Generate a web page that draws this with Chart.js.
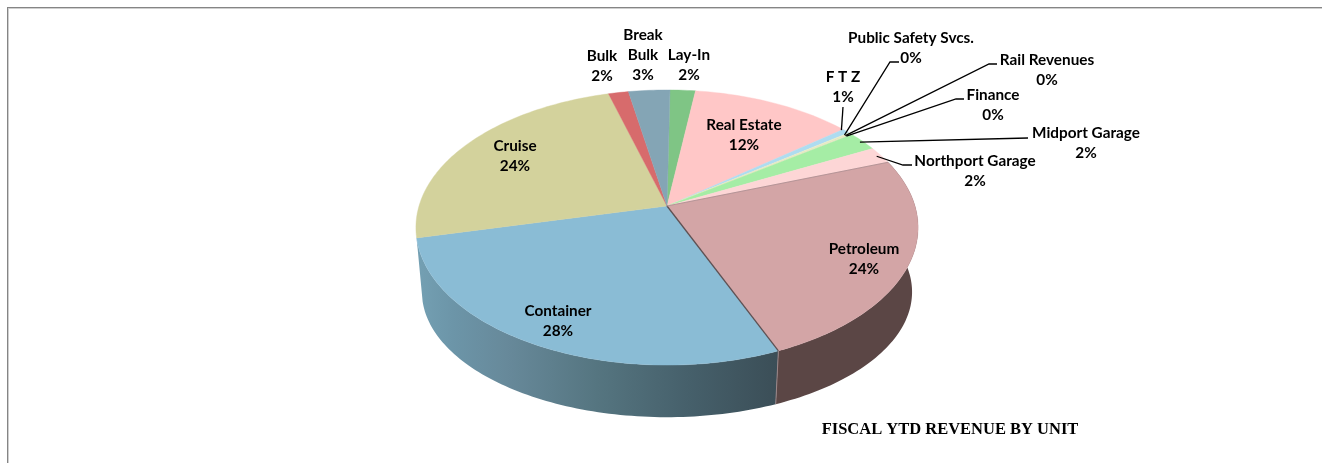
<!DOCTYPE html>
<html>
<head>
<meta charset="utf-8">
<title>Fiscal YTD Revenue by Unit</title>
<script src="https://cdn.jsdelivr.net/npm/chart.js@4"></script>
<style>
  html, body { margin: 0; padding: 0; background: #fff; overflow: hidden; }
  #wrap { position: relative; width: 1322px; height: 463px; }
  #frame { position: absolute; left: 7px; top: 7px; right: 0; bottom: 0;
           border-left: 1px solid #858585; border-top: 1px solid #858585;
           box-shadow: inset 1px 1px 0 #cfcfcf; }
  canvas { position: absolute; left: 0; top: 0; }
</style>
</head>
<body>
<div id="wrap">
  <div id="frame"></div>
  <canvas id="pie" width="1322" height="463"></canvas>
</div>
<script>
// --- data, clockwise starting from Lay-In ---
const categories = ["Lay-In", "Real Estate", "F T Z", "Public Safety Svcs.", "Rail Revenues", "Finance",
  "Midport Garage", "Northport Garage", "Petroleum", "Container", "Cruise", "Bulk", "Break Bulk"];
const revenueShare = [1.9, 12.1, 0.6, 0.1, 0.1, 0.1, 2.3, 2.0, 24.3, 27.6, 24.3, 1.5, 3.1];
const topColors = ["#7fc585", "#ffc7c7", "#aedcf0", "#f0efc4", "#dfe8c0", "#f3e3c8",
  "#a5eda5", "#fdd6d6", "#d3a5a6", "#8abcd5", "#d3d29c", "#d76b6c", "#84a5b5"];
const chartTitle = "FISCAL YTD REVENUE BY UNIT";

// where each label sits (centre x, first line y), same order as categories
const labelPos = [[689, 55], [744, 125], [843, 77], [911, 38], [1047, 60], [993, 95],
  [1086, 133], [975, 161], [864, 249], [558, 311], [515, 146], [602, 56], [643, 35]];
// leader lines: start, elbow, where on the slice it ends (along arc, along radius)
const leaders = {
  2: { from: [843, 107], elbow: null, at: 0, r: 0.99 },
  3: { from: [899, 62], elbow: [890, 62], at: 0.5, r: 0.97 },
  4: { from: [997, 64], elbow: [989, 64], at: 0.5, r: 0.97 },
  5: { from: [964, 99], elbow: [956, 99], at: 0.5, r: 0.97 },
  6: { from: [1028, 138], elbow: null, at: 0.5, r: 0.985 },
  7: { from: [912, 165], elbow: [903, 165], at: 0.5, r: 0.98 },
};

// pie geometry: the view is in perspective, so the apex is above the ellipse centre
const cx = 667, cy = 206, radX = 248, radY = 134.2, persp = 0.1565;
const drop = 66.4, bottomScaleX = 0.976, bottomScaleY = 0.91;

function project(t, r, isBottom) {
  const u = r * Math.sin(t), v = -r * Math.cos(t), w = 1 - persp * v;
  const sx = isBottom ? bottomScaleX : 1;
  const sy = isBottom ? bottomScaleY : 1;
  return [cx + sx * radX * u / w, cy + (isBottom ? drop : 0) + sy * radY * v / w];
}

function rimPoints(a, b, isBottom) {
  const n = Math.max(2, Math.ceil((b - a) / 0.02));
  const pts = [];
  for (let i = 0; i <= n; i++) pts.push(project(a + (b - a) * i / n, 1, isBottom));
  return pts;
}

function tracePoly(ctx, pts) {
  ctx.beginPath();
  pts.forEach((p, i) => (i ? ctx.lineTo(p[0], p[1]) : ctx.moveTo(p[0], p[1])));
  ctx.closePath();
}

const pie3d = {
  id: "pie3d",
  // the library works out the slice angles, we only project them
  beforeDatasetDraw(chart, args) {
    const ctx = chart.ctx;
    const arcs = args.meta.data;
    const angles = arcs.map((arc) => ({ a: arc.startAngle + Math.PI / 2, b: arc.endAngle + Math.PI / 2 }));
    const iPet = categories.indexOf("Petroleum");
    const iCon = categories.indexOf("Container");

    // outer wall
    const wall = (i, fill) => {
      const top = rimPoints(angles[i].a, angles[i].b, false);
      const bottom = rimPoints(angles[i].a, angles[i].b, true).reverse();
      tracePoly(ctx, top.concat(bottom));
      ctx.fillStyle = fill;
      ctx.fill();
    };
    const conGrad = ctx.createLinearGradient(417, 0, 778, 0);
    conGrad.addColorStop(0, "#74a0b3");
    conGrad.addColorStop(0.1, "#6c95a8");
    conGrad.addColorStop(0.25, "#67899a");
    conGrad.addColorStop(0.5, "#557580");
    conGrad.addColorStop(0.75, "#46606b");
    conGrad.addColorStop(1, "#3b4e57");
    wall(iPet, "#5b4645");
    wall(iCon, conGrad);

    // top face
    angles.forEach((ang, i) => {
      const pts = [[cx, cy]].concat(rimPoints(ang.a, ang.b, false));
      tracePoly(ctx, pts);
      ctx.fillStyle = topColors[i];
      ctx.fill();
      ctx.strokeStyle = topColors[i];
      ctx.lineWidth = 0.4;
      ctx.stroke();
    });

    // dark cut between petroleum and container, pale seam on the wall
    const edge = project(angles[iCon].a, 1, false);
    const edgeLow = project(angles[iCon].a, 1, true);
    ctx.strokeStyle = "#5f5052";
    ctx.lineWidth = 1.3;
    ctx.beginPath();
    ctx.moveTo(cx, cy);
    ctx.lineTo(edge[0], edge[1]);
    ctx.stroke();
    ctx.strokeStyle = "#9a8587";
    ctx.lineWidth = 1;
    ctx.beginPath();
    ctx.moveTo(edge[0], edge[1]);
    ctx.lineTo(edgeLow[0], edgeLow[1]);
    ctx.stroke();
    const edge2 = project(angles[iPet].a, 1, false);
    ctx.strokeStyle = "#a98c8e";
    ctx.lineWidth = 0.8;
    ctx.beginPath();
    ctx.moveTo(cx, cy);
    ctx.lineTo(edge2[0], edge2[1]);
    ctx.stroke();
    return false;
  },
  afterDatasetsDraw(chart) {
    const ctx = chart.ctx;
    const arcs = chart.getDatasetMeta(0).data;
    const total = revenueShare.reduce((s, v) => s + v, 0);

    // leaders
    ctx.strokeStyle = "#000";
    ctx.lineWidth = 1.3;
    Object.keys(leaders).forEach((key) => {
      const l = leaders[key];
      const arc = arcs[key];
      const t = arc.startAngle + (arc.endAngle - arc.startAngle) * l.at + Math.PI / 2;
      const end = project(t, l.r, false);
      ctx.beginPath();
      ctx.moveTo(l.from[0], l.from[1]);
      if (l.elbow) ctx.lineTo(l.elbow[0], l.elbow[1]);
      ctx.lineTo(end[0], end[1]);
      ctx.stroke();
    });

    // labels
    ctx.fillStyle = "#000";
    ctx.font = "bold 15.3px Lato";
    ctx.textAlign = "center";
    ctx.textBaseline = "middle";
    categories.forEach((name, i) => {
      const lines = name === "Break Bulk" ? ["Break", "Bulk"] : [name];
      lines.push(Math.round(revenueShare[i] / total * 100) + "%");
      lines.forEach((line, k) => ctx.fillText(line, labelPos[i][0], labelPos[i][1] + k * 20));
    });

    ctx.font = "bold 16.5px 'Liberation Serif'";
    ctx.fillText(chartTitle, 950, 430);
  },
};

new Chart(document.getElementById("pie"), {
  type: "pie",
  data: {
    labels: categories,
    datasets: [{ data: revenueShare, backgroundColor: topColors, borderWidth: 0 }],
  },
  options: {
    responsive: false,
    animation: false,
    rotation: 0.8,
    events: [],
    plugins: { legend: { display: false }, tooltip: { enabled: false }, title: { display: false } },
  },
  plugins: [pie3d],
});
</script>
</body>
</html>
